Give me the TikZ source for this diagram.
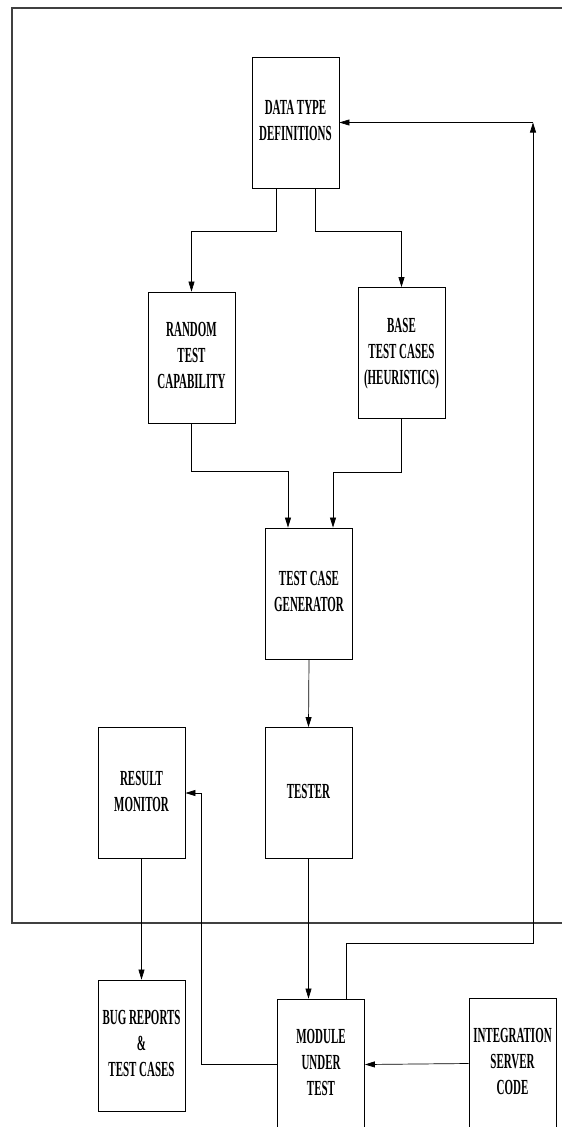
\documentclass[tikz,border=0pt]{standalone}
\usepackage{fontspec}
\setmainfont{Liberation Serif}
\usepackage{graphicx}
\usetikzlibrary{arrows.meta}
\tikzset{
block/.style={rectangle, draw, line width=0.8pt, minimum width=87pt, minimum height=131pt, inner sep=0pt, font=\fontsize{21.5}{26}\selectfont\bfseries},
arr/.style={-{Triangle[length=10pt,width=6pt]}, line width=0.7pt},
frame/.style={line width=1.2pt, black!75}
}
\newcommand{\boxtext}[1]{\scalebox{0.51}[1]{\begin{tabular}{@{}c@{}}#1\end{tabular}}}

\begin{document}
\begin{tikzpicture}[x=1pt, y=-1pt]
    \useasboundingbox (0,0) rectangle (562,1127);
    % outer frame
    \draw[frame] (562,8) -- (12,8) -- (12,923) -- (562,923);
    % blocks
    \node[block] (dtd) at (295.5,122.5) {\boxtext{DATA TYPE\\DEFINITIONS}};
    \node[block] (rnd) at (191.5,357.5) {\boxtext{RANDOM\\TEST\\CAPABILITY}};
    \node[block] (base) at (401.5,353) {\boxtext{BASE\\TEST CASES\\(HEURISTICS)}};
    \node[block] (tcg) at (309,593.5) {\boxtext{TEST CASE\\GENERATOR}};
    \node[block] (tester) at (308.5,793) {\boxtext{TESTER}};
    \node[block] (result) at (141.5,793) {\boxtext{RESULT\\MONITOR}};
    \node[block] (bug) at (141.5,1045.5) {\boxtext{BUG REPORTS\\\&\\TEST CASES}};
    \node[block] (mut) at (321,1064.5) {\boxtext{MODULE\\UNDER\\TEST}};
    \node[block] (isc) at (512.5,1063.5) {\boxtext{INTEGRATION\\SERVER\\CODE}};
    \coordinate (turn) at (533,122.5);
    % connectors
    \draw[arr] ([xshift=-19pt]dtd.south) -- ++(0,43) -| (rnd.north);
    \draw[arr] ([xshift=20pt]dtd.south) -- ++(0,43) -| (base.north);
    \draw[arr] (rnd.south) -- ++(0,48) -| ([xshift=-21pt]tcg.north);
    \draw[arr] (base.south) -- ++(0,53) -| ([xshift=24pt]tcg.north);
    \draw[arr] (tcg.south) -- (tester.north);
    \draw[arr] (tester.south) -- (tester.south |- mut.north);
    \draw[arr] (result.south) -- (bug.north);
    \draw[arr] (mut.west) -| ([xshift=16pt]result.east) -- (result.east);
    \draw[arr] (isc.west) -- (mut.east);
    \draw[arr] ([xshift=25pt]mut.north) -- ++(0,-55) -| (turn);
    \draw[arr] (turn) -- (dtd.east);
\end{tikzpicture}
\end{document}
